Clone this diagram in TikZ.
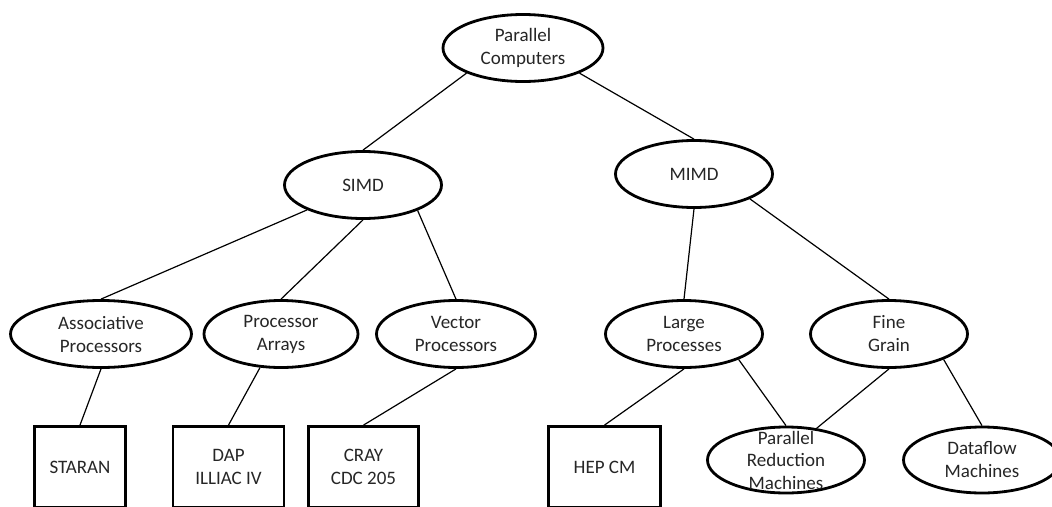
\documentclass[tikz,border=0pt]{standalone}
\usepackage{fontspec}
\setmainfont{Carlito}
\usetikzlibrary{shapes.geometric}

\tikzset{
  every node/.style={font=\fontsize{19}{23}\selectfont, text=black!85, align=center},
  oval/.style={ellipse, draw=black, line width=2.8pt, inner sep=0pt,
               minimum width=#1, minimum height=67pt},
  oval/.default=157pt,
  machine/.style={rectangle, draw=black, line width=2.8pt, inner sep=0pt,
                  minimum height=81pt, minimum width=#1},
  machine/.default=112pt,
  link/.style={draw=black, line width=1.2pt}
}

\begin{document}
\begin{tikzpicture}[x=1pt, y=-1pt]
  \clip (0,0) rectangle (1052,506);
  \fill[white] (0,0) rectangle (1052,506);

  % top of the hierarchy
  \node[oval=160pt] (pc)   at (523,48)  {Parallel\\Computers};
  \node[oval]       (simd) at (363,185) {SIMD};
  \node[oval]       (mimd) at (694,174) {MIMD};

  % SIMD branch
  \node[oval=181pt] (assoc) at (101,334) {Associative\\Processors};
  \node[oval=154pt] (parr)  at (281,334) {Processor\\Arrays};
  \node[oval=159pt] (vec)   at (456,334) {Vector\\Processors};

  % MIMD branch
  \node[oval] (large) at (684,334) {Large\\Processes};
  \node[oval] (fine)  at (889,334) {Fine\\Grain};

  % example machines
  \node[machine=91pt]  (staran) at (80,467)    {STARAN};
  \node[machine=111pt] (dap)    at (228.5,467) {DAP\\ILLIAC IV};
  \node[machine=110pt] (cray)   at (363.5,467) {CRAY\\CDC 205};
  \node[machine=112pt] (hep)    at (604.5,467) {HEP CM};

  \node[oval, minimum height=66pt] (prm) at (786,460) {};
  \node[oval, minimum height=66pt] (dataflow) at (982,460) {Dataflow\\Machines};

  % connectors
  \draw[link] (pc.204)   -- (simd.north);
  \draw[link] (pc.336)   -- (mimd.north);
  \draw[link] (simd.204) -- (assoc.north);
  \draw[link] (simd.south) -- (parr.north);
  \draw[link] (simd.335) -- (vec.north);
  \draw[link] (mimd.south) -- (large.north);
  \draw[link] (mimd.336) -- (fine.north);
  \draw[link] (assoc.south) -- (staran.north);
  \draw[link] (parr.238) -- (dap.north);
  \draw[link] (vec.south) -- (cray.north);
  \draw[link] (large.south) -- (hep.north);
  \draw[link] (large.335) -- (prm.north);
  \draw[link] (fine.south) -- (prm.46);
  \draw[link] (fine.335) -- (dataflow.north);

  % three-line label that spills over its ellipse
  \node[font=\fontsize{19}{22.5}\selectfont] (prmtext) at (prm.center) {Parallel\\Reduction\\Machines};
\end{tikzpicture}
\end{document}
